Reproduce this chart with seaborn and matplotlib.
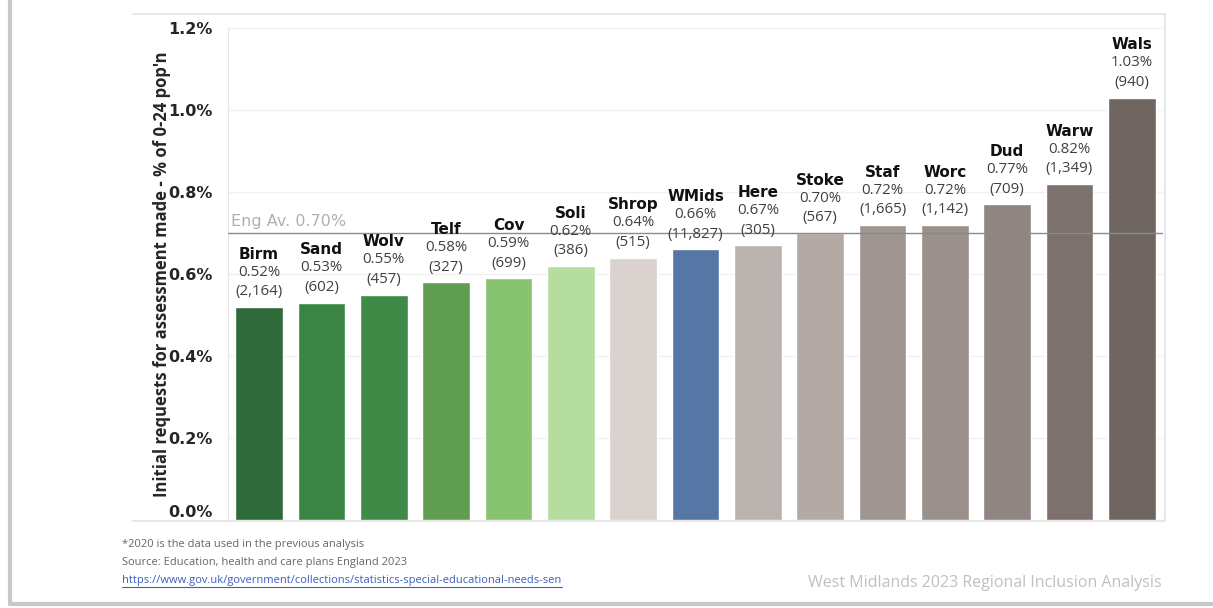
import matplotlib
matplotlib.use("Agg")
import matplotlib.pyplot as plt
import seaborn as sns
import pandas as pd
from matplotlib.lines import Line2D

# ----------------------- Data -----------------------
areas = ["Birm", "Sand", "Wolv", "Telf", "Cov", "Soli", "Shrop", "WMids",
         "Here", "Stoke", "Staf", "Worc", "Dud", "Warw", "Wals"]
rates = [0.52, 0.53, 0.55, 0.58, 0.59, 0.62, 0.64, 0.66,
         0.67, 0.70, 0.72, 0.72, 0.77, 0.82, 1.03]
counts = ["2,164", "602", "457", "327", "699", "386", "515", "11,827",
          "305", "567", "1,665", "1,142", "709", "1,349", "940"]
bar_colours = ["#2f6a3b", "#3a8444", "#3f8a47", "#5f9e50", "#87c370", "#b4dd9f",
               "#d9d2cf", "#5677a5", "#bab2af", "#b3aaa6", "#9f9591", "#9a908c",
               "#8f8581", "#7c716d", "#6f6561"]
eng_avg = 0.70
yticks = [0.0, 0.2, 0.4, 0.6, 0.8, 1.0, 1.2]

df = pd.DataFrame({"area": areas, "rate": rates})

sns.set_style("white")
plt.rcParams["font.family"] = ["Open Sans", "DejaVu Sans"]
BOLD = ["DejaVu Sans"]

fig = plt.figure(figsize=(12.13, 6.08), dpi=100)
ax = fig.add_axes([228 / 1213, 88 / 608, 935 / 1213, 492 / 608])

sns.barplot(data=df, x="area", y="rate", hue="area", palette=bar_colours,
            legend=False, width=0.77, saturation=1, ax=ax, zorder=2)

ax.set_xlim(-0.5, len(areas) - 0.5)
ax.set_ylim(0, 1.2)
ax.set_yticks(yticks)
ax.set_yticklabels([f"{v:.1f}%" for v in yticks], fontsize=11.5,
                   fontweight="bold", family=BOLD)
ax.get_yticklabels()[0].set_verticalalignment("bottom")
ax.tick_params(axis="y", length=0, pad=11)
ax.set_xticks([])
ax.set_xlabel("")
ax.set_ylabel("Initial requests for assessment made - % of 0-24 pop'n",
              fontsize=12, fontweight="bold", labelpad=-2)
ax.grid(axis="y", color="#f0f0f0", linewidth=1, zorder=0)
ax.set_axisbelow(True)
for side in ["top", "right", "bottom"]:
    ax.spines[side].set_visible(False)
ax.spines["left"].set_color("#e6e6e6")

# England average line
ax.axhline(eng_avg, color="#8a8a8a", linewidth=1, zorder=3)
ax.annotate(f"Eng Av. {eng_avg:.2f}%", xy=(-0.45, eng_avg), xytext=(0, 8),
            textcoords="offset points", ha="left", va="center",
            fontsize=11.5, color="#b0b0b0", family=BOLD)

# bar labels
for i, (name, r, c) in enumerate(zip(areas, rates, counts)):
    ax.annotate(f"({c})", xy=(i, r), xytext=(0, 10.8), textcoords="offset points",
                ha="center", va="center", fontsize=10.8, color="#404040")
    ax.annotate(f"{r:.2f}%", xy=(i, r), xytext=(0, 25), textcoords="offset points",
                ha="center", va="center", fontsize=10.8, color="#404040")
    ax.annotate(name, xy=(i, r), xytext=(0, 38), textcoords="offset points",
                ha="center", va="center", fontsize=11, fontweight="bold",
                color="#111111", family=BOLD)

# outer frame and page borders
fw, fh = 1213, 608
frame = dict(color="#e3e3e3", linewidth=1.2, transform=fig.transFigure)
fig.add_artist(Line2D([133 / fw, 1165 / fw], [1 - 14 / fh, 1 - 14 / fh], **frame))
fig.add_artist(Line2D([1165 / fw, 1165 / fw], [1 - 14 / fh, 1 - 521 / fh], **frame))
fig.add_artist(Line2D([133 / fw, 1165 / fw], [1 - 521 / fh, 1 - 521 / fh], **frame))
border = dict(color="#c8c8c8", linewidth=3, transform=fig.transFigure)
fig.add_artist(Line2D([10 / fw, 10 / fw], [1, 4 / fh], **border))
fig.add_artist(Line2D([10 / fw, 1], [4 / fh, 4 / fh], **border))

# footnotes
fig.text(122 / fw, 1 - 545 / fh, "*2020 is the data used in the previous analysis",
         fontsize=8, color="#666666", va="center")
fig.text(122 / fw, 1 - 563 / fh, "Source: Education, health and care plans England 2023",
         fontsize=8, color="#666666", va="center")
fig.text(122 / fw, 1 - 580 / fh,
         "https://www.gov.uk/government/collections/statistics-special-educational-needs-sen",
         fontsize=8, color="#3b5fc0", va="center")
fig.add_artist(Line2D([122 / fw, 562 / fw], [1 - 587 / fh, 1 - 587 / fh],
                      color="#3b5fc0", linewidth=0.8, transform=fig.transFigure))
fig.text(1162 / fw, 1 - 583 / fh, "West Midlands 2023 Regional Inclusion Analysis",
         fontsize=11.5, color="#c0c0c0", ha="right", va="center")

fig.savefig("out.png", dpi=100)
